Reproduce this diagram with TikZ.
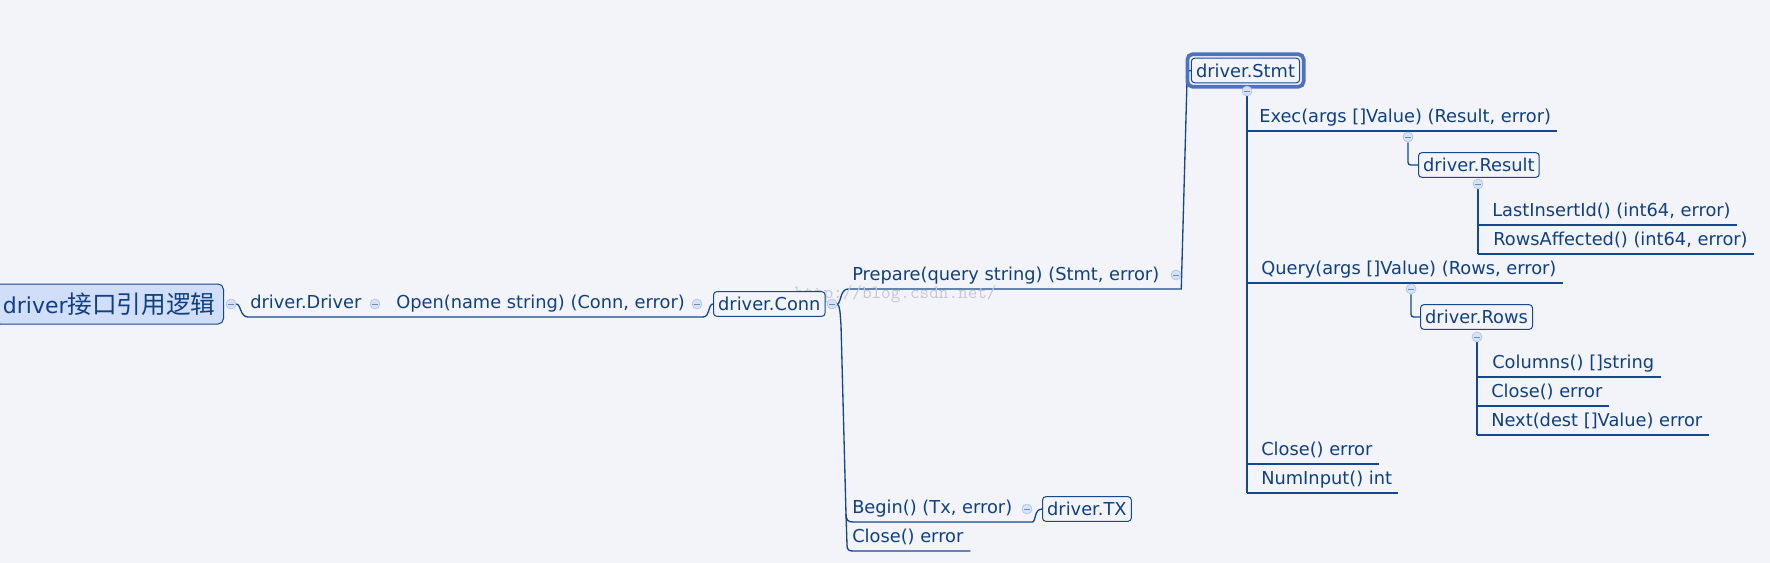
\documentclass[tikz,border=0pt]{standalone}
\usepackage{fontspec}
\setmainfont{DejaVu Sans}
\newfontfamily\cjk[Scale=1.12]{Noto Sans CJK SC}
\usetikzlibrary{backgrounds}
\definecolor{paper}{HTML}{F2F4F9}
\definecolor{ink}{HTML}{10407F}
\definecolor{wire}{HTML}{15488C}
\definecolor{rootfill}{HTML}{D0DEFA}
\definecolor{foldfill}{HTML}{D4E1F7}
\definecolor{foldrim}{HTML}{A6BFE9}
\definecolor{picked}{HTML}{4E72C3}
\definecolor{stamp}{HTML}{C6C8CE}

\begin{document}
\begin{tikzpicture}
  [x=0.75pt,y=-0.75pt,
   every node/.style={text=ink,font=\fontsize{13.35}{16}\selectfont},
   topic/.style={anchor=south west,inner sep=0pt,text depth=6pt},
   box/.style={draw=wire,fill=paper,rounded corners=2.5pt,inner xsep=3.5pt,inner ysep=0pt,
     minimum height=18.5pt,line width=.75pt},
   fold/.style={circle,draw=foldrim,fill=foldfill,inner sep=0pt,minimum size=7.5pt,
     path picture={\draw[foldrim!60!ink,line width=.6pt]
       ([xshift=-2pt]path picture bounding box.center) -- ([xshift=2pt]path picture bounding box.center);}},
   branch/.style={draw=wire,line width=1pt}]

  \useasboundingbox (0,0) rectangle (1770,563);

  \node[text=stamp,font=\fontsize{14}{16}\ttfamily,anchor=base west] (stamp) at (790,298) {http://blog.csdn.net/};

  % root and first levels
  \node[box,fill=rootfill,rounded corners=4pt,inner xsep=6pt,minimum height=30pt,anchor=east,
    font=\fontsize{16.5}{20}\selectfont] (root) at (224,304) {driver{\cjk 接口引用逻辑}};
  \node[fold] (rootfold) at (231,304) {};
  \node[topic] (driver) at (250,317) {driver.Driver};
  \node[fold] (driverfold) at (375,304) {};
  \node[topic] (open) at (396,317) {Open(name string) (Conn, error)};
  \node[fold] (openfold) at (697,304) {};
  \node[box,anchor=west] (conn) at (713,304) {driver.Conn};
  \node[fold] (connfold) at (832,304) {};

  \node[topic] (prepare) at (852,289) {Prepare(query string) (Stmt, error)};
  \node[fold] (prepfold) at (1176,275) {};
  \node[topic] (begin) at (852,522) {Begin() (Tx, error)};
  \node[fold] (beginfold) at (1027,509) {};
  \node[box,anchor=west] (tx) at (1042,509) {driver.TX};
  \node[topic] (cclose) at (852,551) {Close() error};

  % statement
  \node[box] (stmt) at (1245.5,70.5) {driver.Stmt};
  \draw[picked,line width=2.8pt,rounded corners=4pt]
    ([xshift=-2.6pt,yshift=-2.6pt]stmt.south west) rectangle ([xshift=2.6pt,yshift=2.6pt]stmt.north east);
  \node[fold] (stmtfold) at (1247,91) {};
  \node[topic] (exec) at (1259,131) {Exec(args []Value) (Result, error)};
  \node[fold] (execfold) at (1408,137) {};
  \node[box,anchor=west] (result) at (1418,165) {driver.Result};
  \node[fold] (resfold) at (1478,184) {};
  \node[topic] (lastid) at (1492,225) {LastInsertId() (int64, error)};
  \node[topic] (affected) at (1493,254) {RowsAffected() (int64, error)};
  \node[topic] (query) at (1261,283) {Query(args []Value) (Rows, error)};
  \node[fold] (queryfold) at (1411,289) {};
  \node[box,anchor=west] (rows) at (1420,317) {driver.Rows};
  \node[fold] (rowsfold) at (1477,337) {};
  \node[topic] (columns) at (1492,377) {Columns() []string};
  \node[topic] (rclose) at (1491,406) {Close() error};
  \node[topic] (next) at (1491,435) {Next(dest []Value) error};
  \node[topic] (sclose) at (1261,464) {Close() error};
  \node[topic] (numin) at (1261,493) {NumInput() int};

  \coordinate (conntop) at (841,325);
  \coordinate (connlow) at (846,514);

  \begin{pgfonlayer}{background}
    \fill[paper] (0,0) rectangle (1770,563);

    \draw[branch] (rootfold.east) .. controls (241,304) and (240,317) .. (248,317)
      -- (703,317) .. controls (710,317) and (708,304) .. (conn.west);

    \draw[branch] (connfold.east) .. controls (841,304) and (840,289) .. (848,289)
      -- (prepare.south -| prepfold.east) -- ([xshift=-3pt,yshift=-12pt]stmt.west)
      to[out=85,in=180] (stmt.west);
    \draw[branch] (connfold.east) .. controls (840,306) and (840,312) .. (conntop) -- (connlow)
      .. controls (846,520) and (848,522) .. (853,522) -- (begin.south -| beginfold.east)
      .. controls (1036,522) and (1034,509) .. (tx.west);
    \draw[branch] (connlow) -- (847,545) .. controls (847,550) and (849,551) .. (853,551)
      -- ([xshift=5pt]cclose.south east);

    \draw[branch,line width=1.3pt] (stmtfold.south) -- (stmtfold |- numin.south);
    \foreach \n in {exec,query,sclose,numin}
      \draw[branch] (stmtfold |- \n.south) -- ([xshift=4.5pt]\n.south east);

    \draw[branch,rounded corners=2pt] (execfold.south) |- (result.west);
    \draw[branch] (resfold.south) -- (resfold |- affected.south);
    \foreach \n in {lastid,affected}
      \draw[branch] (resfold |- \n.south) -- ([xshift=4.5pt]\n.south east);

    \draw[branch,rounded corners=2pt] (queryfold.south) |- (rows.west);
    \draw[branch] (rowsfold.south) -- (rowsfold |- next.south);
    \foreach \n in {columns,rclose,next}
      \draw[branch] (rowsfold |- \n.south) -- ([xshift=4.5pt]\n.south east);
  \end{pgfonlayer}

\end{tikzpicture}
\end{document}
